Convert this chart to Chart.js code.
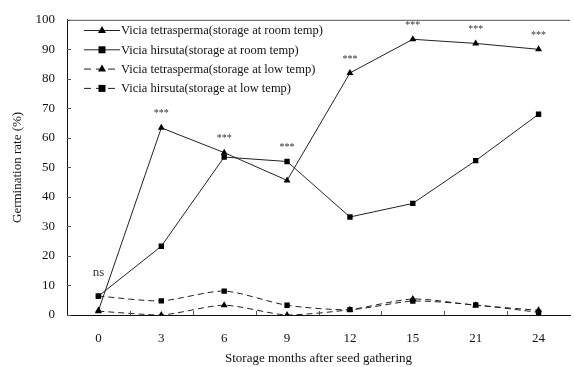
<!DOCTYPE html>
<html>
<head>
<meta charset="utf-8">
<script src="https://cdn.jsdelivr.net/npm/chart.js@4"></script>
<style>
  body { margin: 0; background: #fff; }
</style>
</head>
<body>
<canvas id="chart" width="574" height="367"></canvas>
<script>
const months = ["0", "3", "6", "9", "12", "15", "21", "24"];
const tetraRoom = [1.5, 63.4, 55, 45.6, 82, 93.4, 92, 90];
const hirsutaRoom = [6.4, 23.3, 53.5, 52, 33.2, 37.8, 52.3, 68];
const tetraLow = [1.3, 0, 3.3, 0, 1.8, 5.4, 3.3, 1.6];
const hirsutaLow = [6.4, 4.8, 8.1, 3.3, 1.8, 4.7, 3.4, 0.9];
const signif = ["ns", "***", "***", "***", "***", "***", "***", "***"];

const serif = "'Liberation Serif', 'Times New Roman', serif";
const ink = "#222";

function series(label, data, style, dashed) {
  return {
    label, data,
    borderColor: ink,
    backgroundColor: "#000",
    borderWidth: 1,
    borderDash: dashed ? [6, 4] : [],
    pointStyle: style,
    pointRadius: style === "triangle" ? 4 : 3.8,
    pointBorderWidth: 0,
    tension: dashed ? 0.25 : 0,
    fill: false
  };
}

// inward ticks, top border, annotations, legend
const decor = {
  id: "decor",
  afterDraw(chart) {
    const c = chart.ctx;
    const a = chart.chartArea;
    const x = chart.scales.x, y = chart.scales.y;
    c.save();
    c.strokeStyle = "#555";
    c.lineWidth = 1;
    c.beginPath();
    c.moveTo(a.left, a.top + 0.5); c.lineTo(a.right, a.top + 0.5);
    y.ticks.forEach((t, i) => {
      const py = Math.round(y.getPixelForTick(i)) + 0.5;
      c.moveTo(a.left, py); c.lineTo(a.left + 4, py);
    });
    for (let i = 1; i < months.length; i++) {
      const px = Math.round((x.getPixelForValue(i - 1) + x.getPixelForValue(i)) / 2) + 0.5;
      c.moveTo(px, a.bottom); c.lineTo(px, a.bottom - 4);
    }
    c.stroke();

    // significance marks
    c.fillStyle = "#333";
    c.textAlign = "center";
    c.textBaseline = "middle";
    signif.forEach((s, i) => {
      const top = Math.max(tetraRoom[i], hirsutaRoom[i], tetraLow[i], hirsutaLow[i]);
      const px = x.getPixelForValue(i);
      const py = y.getPixelForValue(top) - (s === "ns" ? 24 : 14);
      c.font = (s === "ns" ? "13px " : "10px ") + serif;
      c.fillText(s, px, py);
    });

    // legend
    c.font = "12.5px " + serif;
    c.textAlign = "left";
    chart.data.datasets.forEach((d, i) => {
      const ly = 30 + i * 19.3;
      c.strokeStyle = ink;
      c.setLineDash(d.borderDash.length ? [7, 5] : []);
      c.beginPath();
      c.moveTo(84, ly + 0.5); c.lineTo(120, ly + 0.5);
      c.stroke();
      c.setLineDash([]);
      c.fillStyle = "#000";
      c.beginPath();
      if (d.pointStyle === "triangle") {
        c.moveTo(102, ly - 4); c.lineTo(106, ly + 3); c.lineTo(98, ly + 3);
      } else {
        c.rect(98.5, ly - 3, 7, 7);
      }
      c.fill();
      c.fillStyle = "#111";
      c.fillText(d.label, 121, ly + 1);
    });
    c.restore();
  }
};

new Chart(document.getElementById("chart"), {
  type: "line",
  data: {
    labels: months,
    datasets: [
      series("Vicia tetrasperma(storage at room temp)", tetraRoom, "triangle", false),
      series("Vicia hirsuta(storage at room temp)", hirsutaRoom, "rect", false),
      series("Vicia tetrasperma(storage at low temp)", tetraLow, "triangle", true),
      series("Vicia hirsuta(storage at low temp)", hirsutaLow, "rect", true)
    ]
  },
  options: {
    responsive: false,
    animation: false,
    layout: { padding: { top: 12, right: 0, left: 0, bottom: 0 } },
    plugins: { legend: { display: false }, tooltip: { enabled: false } },
    scales: {
      x: {
        offset: true,
        grid: { display: false, drawTicks: false },
        border: { color: "#111", width: 1 },
        ticks: { color: "#111", font: { family: serif, size: 13 }, padding: 16 },
        title: { display: true, text: "Storage months after seed gathering", color: "#111",
                 font: { family: serif, size: 13 }, padding: { top: 0, bottom: 1 } },
        afterFit: s => { s.height = 52; }
      },
      y: {
        min: 0, max: 100,
        grid: { display: false, drawTicks: false },
        border: { color: "#111", width: 1 },
        ticks: { stepSize: 10, color: "#111", font: { family: serif, size: 13 }, padding: 12 },
        title: { display: true, text: "Germination rate (%)", color: "#111",
                 font: { family: serif, size: 13 }, padding: { top: 10, bottom: 0 } },
        afterFit: s => { s.width = 67; }
      }
    }
  },
  plugins: [decor]
});
</script>
</body>
</html>
